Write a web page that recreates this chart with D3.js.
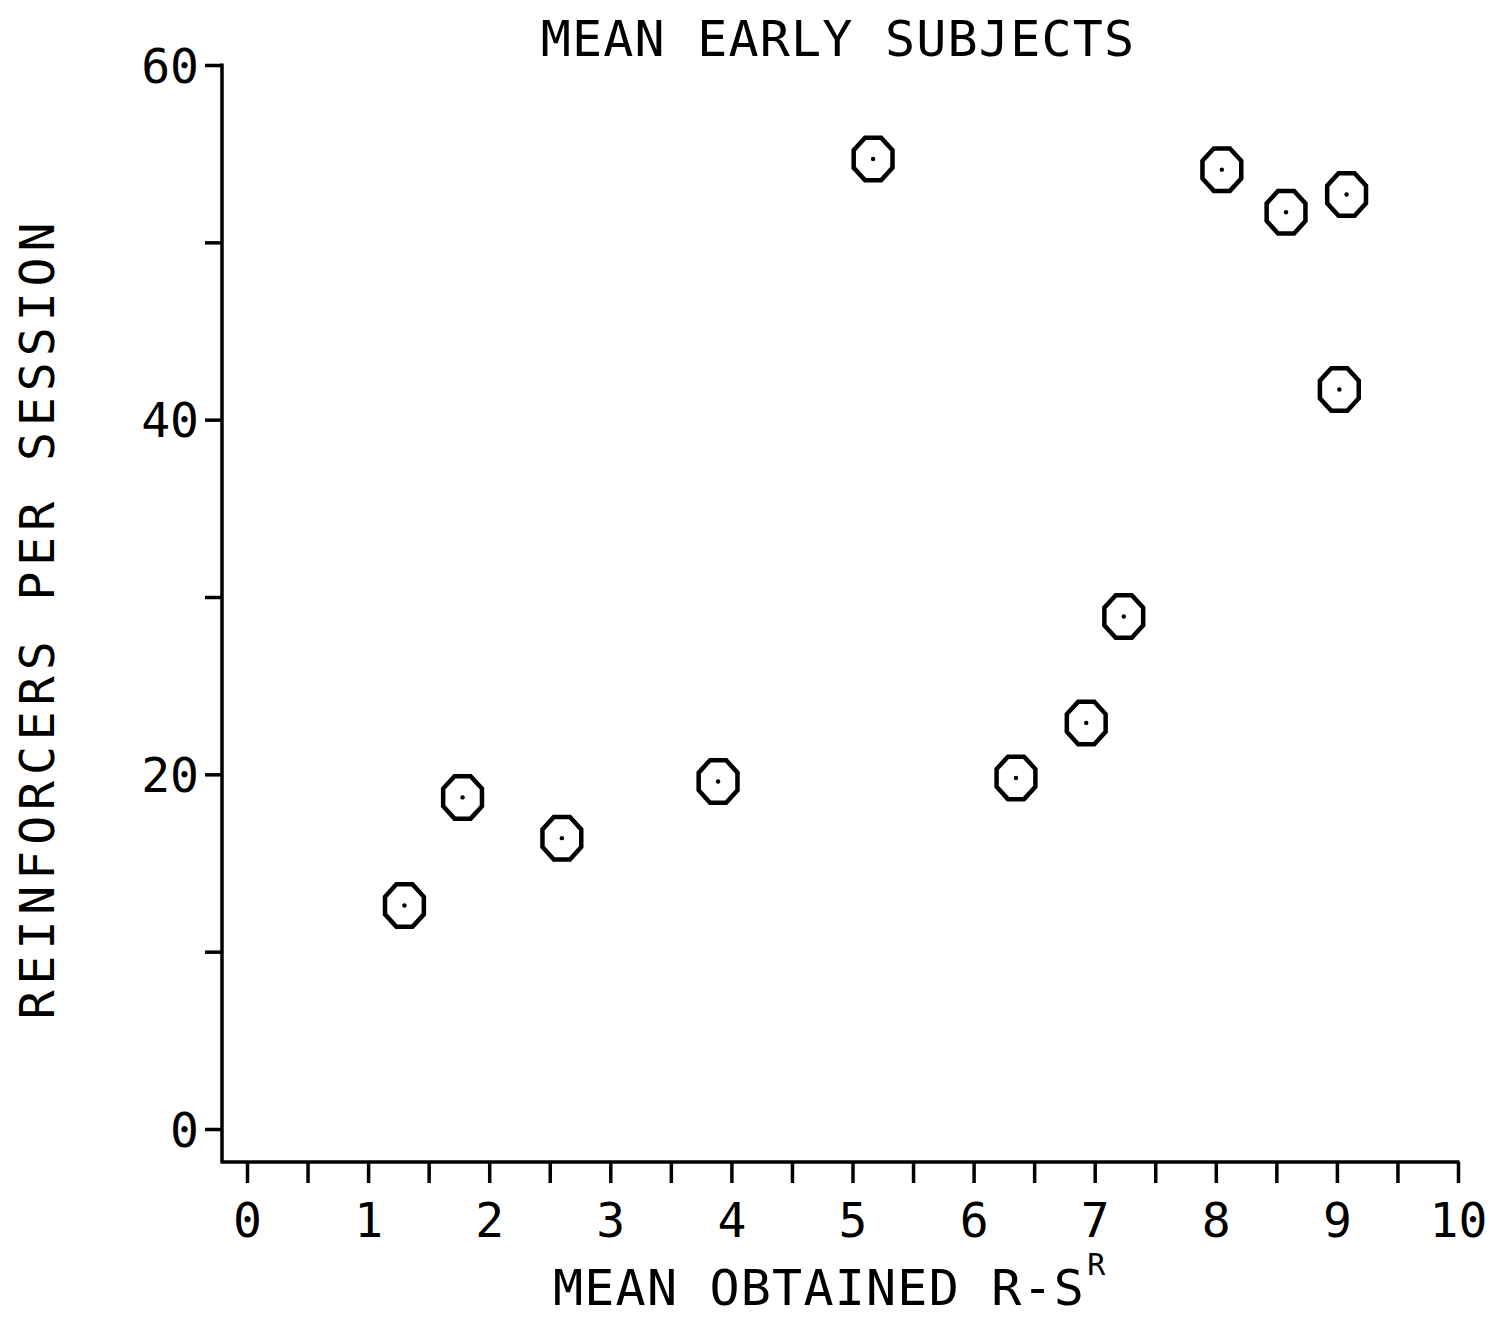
<!DOCTYPE html>
<html>
<head>
<meta charset="utf-8">
<script src="https://cdn.jsdelivr.net/npm/d3@7"></script>
<style>
  html, body { margin: 0; padding: 0; background: #fff; }
  svg { display: block; }
  text { font-family: "DejaVu Sans Mono", monospace; fill: #000; }
</style>
</head>
<body>
<svg id="chart" width="1493" height="1318"></svg>
<script>
// Mean obtained response–reinforcer interval vs. reinforcers per session
const subjectRS   = [1.30, 1.78, 2.60, 3.89, 5.17, 6.35, 6.93, 7.24, 8.05, 8.58, 9.08, 9.02];
const reinforcers = [12.6, 18.7, 16.4, 19.6, 54.7, 19.8, 22.9, 28.9, 54.1, 51.7, 52.7, 41.7];

const xTickValues  = d3.range(0, 10.01, 0.5);
const xTickLabels  = [0, 1, 2, 3, 4, 5, 6, 7, 8, 9, 10];
const yTickValues  = [0, 10, 20, 30, 40, 50, 60];
const yTickLabels  = [0, 20, 40, 60];

const titleText  = "MEAN EARLY SUBJECTS";
const xAxisTitle = "MEAN OBTAINED R-S";
const xAxisSup   = "R";
const yAxisTitle = "REINFORCERS PER SESSION";

const svg = d3.select("#chart");

const x = d3.scaleLinear().domain([0, 10]).range([247, 1458]);
const y = d3.scaleLinear().domain([0, 60]).range([1129, 65]);

const axisX0 = 222;      // left edge of the frame
const axisY0 = 1162;     // baseline of the x axis

const ink = "#000";

// Y axis
const yAxis = d3.axisLeft(y)
  .tickValues(yTickValues)
  .tickSize(17)
  .tickSizeOuter(0)
  .tickPadding(6)
  .tickFormat(d => yTickLabels.includes(d) ? String(d) : "");

const gy = svg.append("g")
  .attr("transform", `translate(${axisX0},0)`)
  .call(yAxis);
gy.select(".domain").remove();
gy.selectAll(".tick line").attr("stroke", ink).attr("stroke-width", 3.5);
gy.selectAll(".tick text")
  .attr("font-size", 48)
  .attr("dy", "0.36em")
  .style("font-family", "'DejaVu Sans Mono', monospace");

svg.append("line")
  .attr("x1", axisX0).attr("x2", axisX0)
  .attr("y1", y(60) - 1.5).attr("y2", axisY0)
  .attr("stroke", ink).attr("stroke-width", 3.5);

// X axis
const xAxis = d3.axisBottom(x)
  .tickValues(xTickValues)
  .tickSize(21)
  .tickSizeOuter(0)
  .tickPadding(20)
  .tickFormat(d => xTickLabels.includes(d) ? String(d) : "");

const gx = svg.append("g")
  .attr("transform", `translate(0,${axisY0})`)
  .call(xAxis);
gx.select(".domain").remove();
gx.selectAll(".tick line").attr("stroke", ink).attr("stroke-width", 3.5);
gx.selectAll(".tick text")
  .attr("font-size", 48)
  .style("font-family", "'DejaVu Sans Mono', monospace");

svg.append("line")
  .attr("x1", axisX0 - 1.5).attr("x2", x(10) + 1.5)
  .attr("y1", axisY0).attr("y2", axisY0)
  .attr("stroke", ink).attr("stroke-width", 3.5);

// Octagonal plotter markers with a centre dot
const rx = 21, ry = 23;
const octagon = d3.range(8).map(i => {
  const a = Math.PI / 8 + i * Math.PI / 4;
  return [rx * Math.cos(a), ry * Math.sin(a)];
});
const octPath = "M" + octagon.map(p => p.join(",")).join("L") + "Z";

const pts = svg.append("g")
  .selectAll("g.pt")
  .data(subjectRS.map((v, i) => ({ x: v, y: reinforcers[i] })))
  .join("g")
  .attr("class", "pt")
  .attr("transform", d => `translate(${x(d.x)},${y(d.y)})`);

pts.append("path")
  .attr("d", octPath)
  .attr("fill", "none")
  .attr("stroke", ink)
  .attr("stroke-width", 4.5)
  .attr("stroke-linejoin", "miter");

pts.append("circle")
  .attr("r", 2.2)
  .attr("fill", ink);

// Titles
svg.append("text")
  .attr("x", 838).attr("y", 56)
  .attr("text-anchor", "middle")
  .attr("font-size", 50)
  .attr("letter-spacing", 1.2)
  .text(titleText);

const xt = svg.append("text")
  .attr("x", 553).attr("y", 1305)
  .attr("font-size", 50)
  .attr("letter-spacing", 1.2);
xt.append("tspan").text(xAxisTitle);
xt.append("tspan")
  .attr("font-size", 30)
  .attr("dy", -30)
  .attr("dx", 2)
  .text(xAxisSup);

svg.append("text")
  .attr("transform", "translate(54,618) rotate(-90)")
  .attr("text-anchor", "middle")
  .attr("font-size", 48)
  .attr("letter-spacing", 6)
  .text(yAxisTitle);
</script>
</body>
</html>
